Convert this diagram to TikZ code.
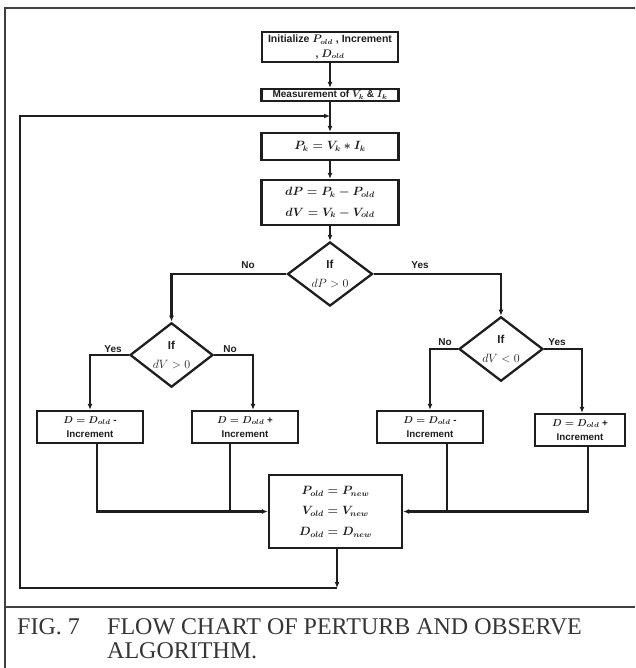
\documentclass[tikz,border=0pt]{standalone}
\usepackage{fontspec}
\setmainfont{Liberation Sans}
\newfontfamily\capfont{Liberation Serif}
\usetikzlibrary{arrows.meta, positioning, calc, shapes.geometric}
\definecolor{ink}{HTML}{1E1E1E}
\tikzset{
    box/.style={rectangle, draw=ink, line width=2.3pt, inner sep=0pt, align=center, text=ink, font=\fontsize{10.5}{14.5}\selectfont\bfseries\boldmath},
    eqbox/.style={box, font=\fontsize{12}{20.5}\selectfont\bfseries\boldmath},
    incbox/.style={box, minimum width=106pt, minimum height=32pt, font=\fontsize{9.8}{14}\selectfont\bfseries\boldmath},
    dec/.style={diamond, draw=ink, line width=2.3pt, inner sep=0pt, align=center, text=ink, minimum width=84pt, minimum height=60pt, font=\fontsize{11.5}{18.5}\selectfont\bfseries},
    lbl/.style={inner sep=0pt, text=ink, font=\fontsize{10}{11}\selectfont\bfseries},
    flow/.style={-{Latex[length=6pt,width=5pt]}, line width=2.3pt, draw=ink},
    wire/.style={line width=2.3pt, draw=ink},
    frame/.style={line width=2.2pt, draw=ink!85},
    captxt/.style={inner sep=0pt, text=ink!90, font=\capfont\fontsize{24}{28}\selectfont}
}

\begin{document}
\begin{tikzpicture}[x=1pt, y=-1pt]
    \useasboundingbox (0,0) rectangle (635,668);

    % Marco y pie de figura
    \draw[frame] (635,8) -- (5,8) -- (5,668);
    \draw[frame] (5,607) -- (635,607);
    \node[captxt, anchor=base west] (fig) at (17,634) {FIG. 7};
    \node[captxt, anchor=base west] (cap1) at (107,634) {FLOW CHART OF PERTURB AND OBSERVE};
    \node[captxt, anchor=base west] (cap2) at (107,658) {ALGORITHM.};

    % Linea principal
    \node[box, minimum width=136pt, minimum height=30pt] (init) at (330,47) {Initialize $P_{old}$ , Increment\\ , $D_{old}$};
    \node[box, minimum width=137pt, minimum height=12pt, font=\fontsize{10}{12}\selectfont\bfseries\boldmath] (meas) at (330,95) {Measurement of $V_k$ \& $I_k$};
    \node[eqbox, minimum width=137pt, minimum height=27pt] (pk) at (330,146.5) {$P_k = V_k * I_k$};
    \node[eqbox, minimum width=137pt, minimum height=45pt] (dp) at (330,202.5) {$dP = P_k - P_{old}$\\ $dV = V_k - V_{old}$};

    % Decisiones
    \node[dec, minimum width=85pt] (d1) at (330,274) {If\\ $dP > 0$};
    \node[dec, minimum width=83pt] (d2) at (171.5,355) {If\\ $dV > 0$};
    \node[dec] (d3) at (501,349) {If\\ $dV < 0$};

    \node[lbl] (no1) at (248,265) {No};
    \node[lbl] (yes1) at (420,265) {Yes};
    \node[lbl] (yes2) at (113,349) {Yes};
    \node[lbl] (no2) at (230,349) {No};
    \node[lbl] (no3) at (445,342) {No};
    \node[lbl] (yes3) at (557,342) {Yes};

    % Ajustes del ciclo de trabajo
    \node[incbox] (b1) at (90,427) {$D = D_{old}$ -\\ Increment};
    \node[incbox] (b2) at (245,427) {$D = D_{old}$ +\\ Increment};
    \node[incbox] (b3) at (430,427) {$D = D_{old}$ -\\ Increment};
    \node[incbox, minimum width=90pt] (b4) at (580,430) {$D = D_{old}$ +\\ Increment};

    \node[eqbox, minimum width=133pt, minimum height=73pt] (fin) at (335.5,511.5) {$P_{old} = P_{new}$\\ $V_{old} = V_{new}$\\ $D_{old} = D_{new}$};

    % Flechas principales
    \draw[flow] (init.south) -- (meas.north);
    \draw[flow] (meas.south) -- (pk.north);
    \draw[flow] (pk.south) -- (dp.north);
    \draw[flow] (dp.south) -- (d1.north);

    \draw[flow] (d1.west) -| (d2.north);
    \draw[flow] (d1.east) -| (d3.north);
    \draw[flow] (d2.west) -| (b1.north);
    \draw[flow] (d2.east) -| ([xshift=8pt]b2.north);
    \draw[flow] (d3.west) -| (b3.north);
    \draw[flow] (d3.east) -| ([xshift=2pt]b4.north);

    % Uniones hacia el bloque final
    \draw[flow] ([xshift=7pt]b1.south) |- (fin.west);
    \draw[wire] ([xshift=-15pt]b2.south) -- ([xshift=-15pt]b2.south |- fin.west);
    \draw[flow] ([xshift=8pt]b4.south) |- (fin.east);
    \draw[wire] ([xshift=17pt]b3.south) -- ([xshift=17pt]b3.south |- fin.east);

    % Retorno
    \coordinate (fbB) at (337,588);
    \coordinate (fbL) at (20,588);
    \coordinate (fbT) at (20,116);
    \draw[flow] ([xshift=1.5pt]fin.south) -- (fbB);
    \draw[flow] (fbB) -- (fbL) -- (fbT) -- (fbT -| meas.south);
\end{tikzpicture}
\end{document}
